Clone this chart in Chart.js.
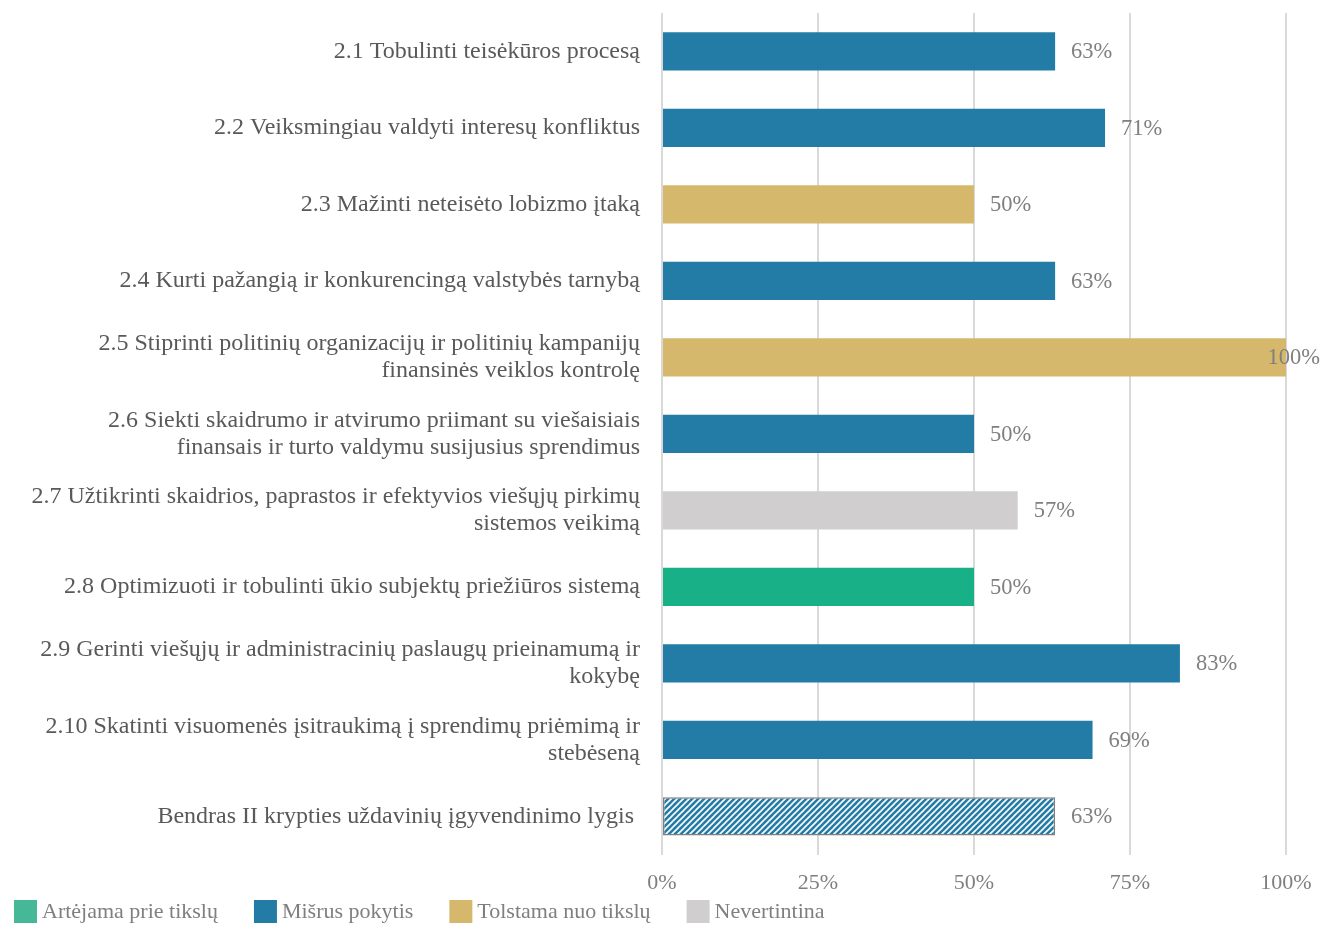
<!DOCTYPE html>
<html>
<head>
<meta charset="utf-8">
<script src="https://cdn.jsdelivr.net/npm/chart.js@4/dist/chart.umd.min.js"></script>
<style>
html,body{margin:0;padding:0;background:#fff;}
#wrap{width:1322px;height:927px;position:relative;}
</style>
</head>
<body>
<div id="wrap"><canvas id="c" width="1322" height="927"></canvas></div>
<script>
const categories = [
  "2.1 Tobulinti teisėkūros procesą",
  "2.2 Veiksmingiau valdyti interesų konfliktus",
  "2.3 Mažinti neteisėto lobizmo įtaką",
  "2.4 Kurti pažangią ir konkurencingą valstybės tarnybą",
  ["2.5 Stiprinti politinių organizacijų ir politinių kampanijų", "finansinės veiklos kontrolę"],
  ["2.6 Siekti skaidrumo ir atvirumo priimant su viešaisiais", "finansais ir turto valdymu susijusius sprendimus"],
  ["2.7 Užtikrinti skaidrios, paprastos ir efektyvios viešųjų pirkimų", "sistemos veikimą"],
  "2.8 Optimizuoti ir tobulinti ūkio subjektų priežiūros sistemą",
  ["2.9 Gerinti viešųjų ir administracinių paslaugų prieinamumą ir", "kokybę"],
  ["2.10 Skatinti visuomenės įsitraukimą į sprendimų priėmimą ir", "stebėseną"],
  "Bendras II krypties uždavinių įgyvendinimo lygis "
];
const values = [63, 71, 50, 63, 100, 50, 57, 50, 83, 69, 63];
const status = ["mixed","mixed","away","mixed","away","mixed","none","toward","mixed","mixed","total"];
const xTicks = [0, 25, 50, 75, 100];
const legendLabels = ["Artėjama prie tikslų", "Mišrus pokytis", "Tolstama nuo tikslų", "Nevertintina"];
const legendKeys = ["toward", "mixed", "away", "none"];

const FONT = "'Liberation Serif', 'Times New Roman', serif";
const colors = { toward: "#17B087", mixed: "#237CA5", away: "#D6B86C", none: "#D0CECF" };
const legendColors = { toward: "#46B797", mixed: "#237CA5", away: "#D6B86C", none: "#D0CECF" };

function hatch() {
  const s = 6;
  const p = document.createElement('canvas');
  p.width = s; p.height = s;
  const g = p.getContext('2d');
  g.fillStyle = colors.mixed;
  g.fillRect(0, 0, s, s);
  g.strokeStyle = '#ffffff';
  g.lineWidth = 1.6;
  g.beginPath();
  g.moveTo(-1, s + 1); g.lineTo(s + 1, -1);
  g.moveTo(-1, 1); g.lineTo(1, -1);
  g.moveTo(s - 1, s + 1); g.lineTo(s + 1, s - 1);
  g.stroke();
  return g.createPattern(p, 'repeat');
}
const hatchPattern = hatch();

const bg = status.map(s => s === 'total' ? hatchPattern : colors[s]);
const borderC = status.map(s => s === 'total' ? '#7f7f7f' : 'rgba(0,0,0,0)');
const borderW = status.map(s => s === 'total' ? 1.5 : 0);

const valueLabels = {
  id: 'valueLabels',
  afterDatasetsDraw(chart) {
    const ctx = chart.ctx;
    const meta = chart.getDatasetMeta(0);
    ctx.save();
    ctx.font = "22.5px " + FONT;
    ctx.fillStyle = "#7f7f7f";
    ctx.textBaseline = "middle";
    ctx.textAlign = "left";
    meta.data.forEach((bar, i) => {
      const t = values[i] + "%";
      const w = ctx.measureText(t).width;
      let x = bar.x + 16;
      if (x + w > chart.width - 2) x = chart.width - w - 2;
      ctx.fillText(t, x, bar.y + 1);
    });
    ctx.restore();
  }
};

const customLegend = {
  id: 'customLegend',
  afterDraw(chart) {
    const ctx = chart.ctx;
    ctx.save();
    ctx.font = "22px " + FONT;
    ctx.textBaseline = "middle";
    let x = 14;
    const y = 911;
    legendLabels.forEach((lab, i) => {
      ctx.fillStyle = legendColors[legendKeys[i]];
      ctx.fillRect(x, y - 11, 23, 23);
      ctx.fillStyle = "#7f7f7f";
      ctx.fillText(lab, x + 28, y + 1);
      x += 28 + ctx.measureText(lab).width + 36;
    });
    ctx.restore();
  }
};

new Chart(document.getElementById('c'), {
  type: 'bar',
  data: {
    labels: categories,
    datasets: [{
      data: values,
      backgroundColor: bg,
      borderColor: borderC,
      borderWidth: borderW,
      borderSkipped: false,
      barPercentage: 0.5,
      categoryPercentage: 1.0
    }]
  },
  options: {
    indexAxis: 'y',
    responsive: false,
    animation: false,
    devicePixelRatio: 1,
    layout: { padding: { top: 13, right: 36, left: 0, bottom: 16 } },
    plugins: { legend: { display: false }, tooltip: { enabled: false } },
    scales: {
      x: {
        min: 0, max: 100,
        afterBuildTicks(scale) { scale.ticks = xTicks.map(v => ({ value: v })); },
        afterFit(scale) { scale.paddingLeft = 0; scale.paddingRight = 0; },
        ticks: {
          callback: v => v + "%",
          font: { family: FONT, size: 22 },
          color: "#7f7f7f",
          padding: 15
        },
        grid: { color: "#d9d9d9", lineWidth: 2, drawTicks: false },
        border: { display: false }
      },
      y: {
        afterFit(scale) { scale.width = 662; scale.paddingTop = 0; scale.paddingBottom = 0; },
        ticks: {
          font: { family: FONT, size: 24, lineHeight: '27px' },
          color: "#595959",
          padding: 22,
          autoSkip: false
        },
        grid: { display: false, drawTicks: false },
        border: { display: false }
      }
    }
  },
  plugins: [valueLabels, customLegend]
});
</script>
</body>
</html>
